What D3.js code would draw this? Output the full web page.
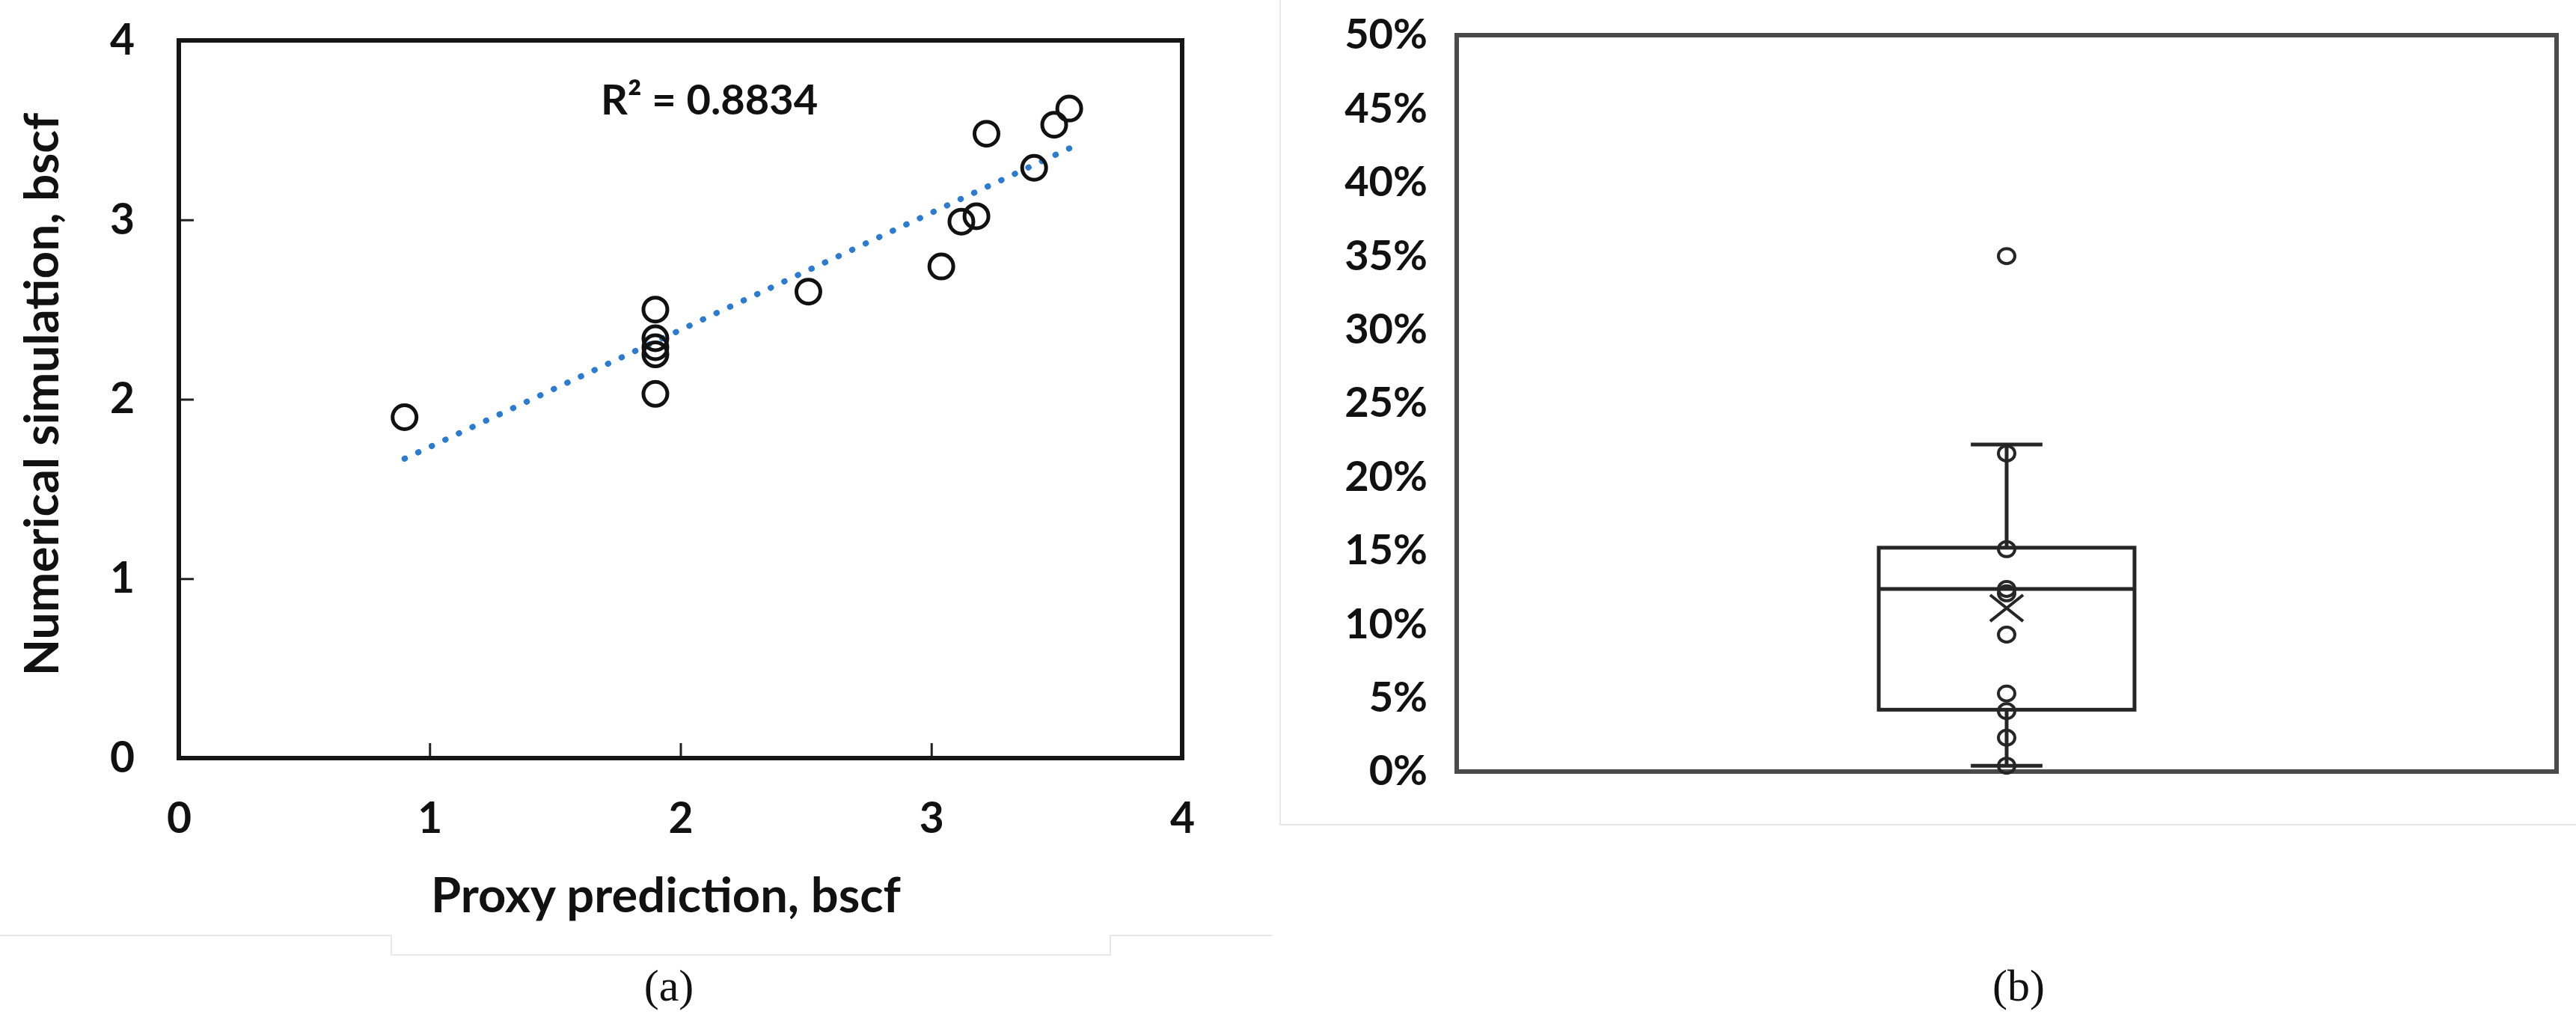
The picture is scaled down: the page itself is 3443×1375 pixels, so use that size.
<!DOCTYPE html>
<html>
<head>
<meta charset="utf-8">
<style>
    body { margin: 0; background: #fff; }
    .tick text { font-family: Lato, "Open Sans", sans-serif; font-weight: bold; fill: #111; }
    .title { font-family: Lato, "Open Sans", sans-serif; font-weight: bold; fill: #111; }
    .caption { font-family: "Liberation Serif", "DejaVu Serif", serif; fill: #111; }
    .frame { fill: none; stroke-linejoin: miter; }
</style>
</head>
<body>
<div id="chart"></div>
<script src="https://cdn.jsdelivr.net/npm/d3@7"></script>
<script>

    // (a) proxy prediction vs numerical simulation, bscf
    var proxyPred = [0.90, 1.90, 1.90, 1.90, 1.90, 1.90, 2.51, 3.04, 3.12, 3.18, 3.22, 3.41, 3.49, 3.55];
    var numSim    = [1.90, 2.50, 2.34, 2.29, 2.25, 2.03, 2.60, 2.74, 2.99, 3.02, 3.48, 3.29, 3.53, 3.62];
    var axisTicksA = [0, 1, 2, 3, 4];
    var r2Label = "R\u00b2 = 0.8834";

    // (b) relative error points and box stats
    var errPoints = [0.350, 0.216, 0.151, 0.124, 0.121, 0.093, 0.053, 0.041, 0.023, 0.004];
    var errBox = ["min", "q1", "median", "q3", "max", "mean"];
    var errBoxVals = [0.004, 0.042, 0.124, 0.152, 0.222, 0.111];
    var errTicks = [0, 0.05, 0.10, 0.15, 0.20, 0.25, 0.30, 0.35, 0.40, 0.45, 0.50];

    var W = 3443, H = 1375;

    var svg = d3.select("#chart").append("svg")
        .attr("width", W)
        .attr("height", H)
        .style("display", "block");

    svg.append("rect").attr("width", W).attr("height", H).attr("fill", "#fff");

    // faint edges left over from the pasted images
    var faint = svg.append("g").attr("stroke", "#e8e8e8").attr("stroke-width", 2).attr("fill", "none");
    faint.append("path").attr("d", "M0,1250H523V1276H1484V1250H1700");
    faint.append("path").attr("d", "M1711,0V1102H3443");

    // ---------------- panel (a) ----------------
    var xA = d3.scaleLinear().domain([0, 4]).range([239, 1580]),
        yA = d3.scaleLinear().domain([0, 4]).range([1013, 54]);

    var gA = svg.append("g");

    gA.append("g")
        .attr("transform", "translate(0," + yA(0) + ")")
        .call(d3.axisBottom(xA).tickValues(axisTicksA).tickFormat(d3.format("d"))
            .tickSizeInner(-20).tickSizeOuter(0).tickPadding(60))
        .call(function (g) {
            g.select(".domain").remove();
            g.selectAll("line").attr("stroke", "#222").attr("stroke-width", 3);
            g.selectAll("text").style("font-size", "57px");
        });

    gA.append("g")
        .attr("transform", "translate(" + xA(0) + ",0)")
        .call(d3.axisLeft(yA).tickValues(axisTicksA).tickFormat(d3.format("d"))
            .tickSizeInner(-20).tickSizeOuter(0).tickPadding(59))
        .call(function (g) {
            g.select(".domain").remove();
            g.selectAll("line").attr("stroke", "#222").attr("stroke-width", 3);
            g.selectAll("text").style("font-size", "57px");
        });

    gA.append("rect")
        .attr("class", "frame")
        .attr("x", xA(0)).attr("y", yA(4))
        .attr("width", xA(4) - xA(0)).attr("height", yA(0) - yA(4))
        .attr("stroke", "#151515").attr("stroke-width", 6);

    // linear trendline fitted to the points
    var pts = proxyPred.map(function (x, i) { return { x: x, y: numSim[i] }; });
    var mx = d3.mean(pts, function (d) { return d.x; }),
        my = d3.mean(pts, function (d) { return d.y; });
    var slope = d3.sum(pts, function (d) { return (d.x - mx) * (d.y - my); }) /
                d3.sum(pts, function (d) { return (d.x - mx) * (d.x - mx); });
    var icpt = my - slope * mx;
    var ext = d3.extent(proxyPred);

    gA.append("path")
        .datum(ext.map(function (x) { return { x: x, y: icpt + slope * x }; }))
        .attr("d", d3.line().x(function (d) { return xA(d.x); }).y(function (d) { return yA(d.y); }))
        .attr("fill", "none")
        .attr("stroke", "#2b7bd1")
        .attr("stroke-width", 8)
        .attr("stroke-linecap", "round")
        .attr("stroke-dasharray", "0.5 19.5");

    gA.selectAll(".pt")
        .data(pts)
        .enter().append("circle")
        .attr("class", "pt")
        .attr("cx", function (d) { return xA(d.x); })
        .attr("cy", function (d) { return yA(d.y); })
        .attr("r", 16)
        .attr("fill", "none")
        .attr("stroke", "#111")
        .attr("stroke-width", 5);

    gA.append("text")
        .attr("class", "title")
        .attr("x", 803).attr("y", 153)
        .style("font-size", "56px")
        .text(r2Label);

    gA.append("text")
        .attr("class", "title")
        .attr("x", 890).attr("y", 1219)
        .attr("text-anchor", "middle")
        .style("font-size", "65px")
        .text("Proxy prediction, bscf");

    gA.append("text")
        .attr("class", "title")
        .attr("transform", "translate(78,527) rotate(-90)")
        .attr("text-anchor", "middle")
        .style("font-size", "64px")
        .text("Numerical simulation, bscf");

    svg.append("text")
        .attr("class", "caption")
        .attr("x", 894).attr("y", 1337)
        .attr("text-anchor", "middle")
        .style("font-size", "60px")
        .text("(a)");

    // ---------------- panel (b) ----------------
    var xB = d3.scaleBand().domain(["err"]).range([1947, 3417]).paddingInner(0).paddingOuter(1.65),
        yB = d3.scaleLinear().domain([0, 0.5]).range([1031, 47]);

    var gB = svg.append("g");

    gB.append("g")
        .attr("transform", "translate(" + xB.range()[0] + ",0)")
        .call(d3.axisLeft(yB).tickValues(errTicks).tickFormat(d3.format(".0%"))
            .tickSize(0).tickPadding(39))
        .call(function (g) {
            g.select(".domain").remove();
            g.selectAll("text").style("font-size", "56px");
        });

    gB.append("rect")
        .attr("class", "frame")
        .attr("x", xB.range()[0]).attr("y", yB(0.5))
        .attr("width", xB.range()[1] - xB.range()[0]).attr("height", yB(0) - yB(0.5))
        .attr("stroke", "#4a4a4a").attr("stroke-width", 6);

    var stat = {};
    errBox.forEach(function (k, i) { stat[k] = errBoxVals[i]; });

    var bx = xB("err"), bw = xB.bandwidth(), cx = bx + bw / 2, capW = bw * 0.28;
    var box = gB.append("g").attr("stroke", "#262626").attr("fill", "none").attr("stroke-width", 5);

    // whiskers
    box.append("line").attr("x1", cx).attr("x2", cx).attr("y1", yB(stat.q3)).attr("y2", yB(stat.max));
    box.append("line").attr("x1", cx).attr("x2", cx).attr("y1", yB(stat.q1)).attr("y2", yB(stat.min));
    box.append("line").attr("x1", cx - capW / 2).attr("x2", cx + capW / 2).attr("y1", yB(stat.max)).attr("y2", yB(stat.max));
    box.append("line").attr("x1", cx - capW / 2).attr("x2", cx + capW / 2).attr("y1", yB(stat.min)).attr("y2", yB(stat.min));

    // box + median
    box.append("rect")
        .attr("x", bx).attr("y", yB(stat.q3))
        .attr("width", bw).attr("height", yB(stat.q1) - yB(stat.q3));
    box.append("line").attr("x1", bx).attr("x2", bx + bw).attr("y1", yB(stat.median)).attr("y2", yB(stat.median));

    // mean marker
    var mk = 22, my2 = yB(stat.mean);
    box.append("path")
        .attr("stroke-width", 4)
        .attr("d", "M" + (cx - mk) + "," + (my2 - mk * 0.8) + "L" + (cx + mk) + "," + (my2 + mk * 0.8) +
                   "M" + (cx - mk) + "," + (my2 + mk * 0.8) + "L" + (cx + mk) + "," + (my2 - mk * 0.8));

    gB.selectAll(".ep")
        .data(errPoints)
        .enter().append("ellipse")
        .attr("class", "ep")
        .attr("cx", cx)
        .attr("cy", function (d) { return yB(d); })
        .attr("rx", 11).attr("ry", 10)
        .attr("fill", "none")
        .attr("stroke", "#262626")
        .attr("stroke-width", 4);

    svg.append("text")
        .attr("class", "caption")
        .attr("x", 2698).attr("y", 1337)
        .attr("text-anchor", "middle")
        .style("font-size", "60px")
        .text("(b)");

</script>
</body>
</html>
